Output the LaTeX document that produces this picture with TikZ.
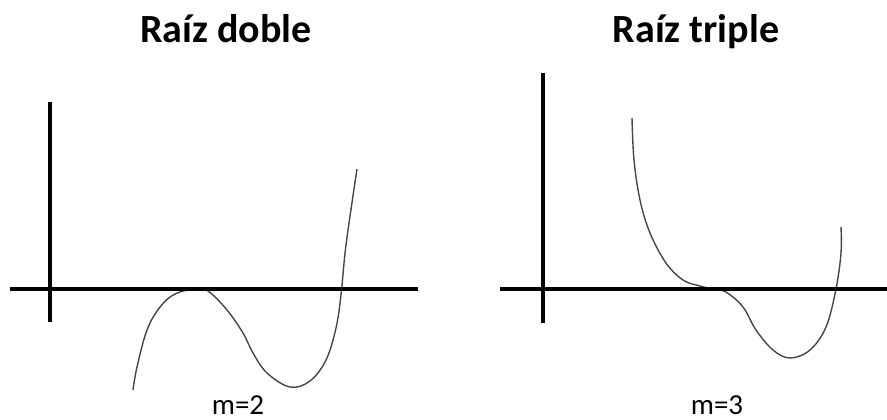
\documentclass[tikz,border=0pt]{standalone}
\usepackage{fontspec}
\setmainfont{Carlito}
\begin{document}
\begin{tikzpicture}[x=1pt,y=-1pt,
  axis/.style={line width=4pt},
  curve/.style={line width=1.4pt,draw={rgb,255:red,70;green,70;blue,70}},
  title/.style={font=\fontsize{40}{44}\selectfont\bfseries,anchor=base},
  mlabel/.style={font=\fontsize{29}{32}\selectfont,anchor=base}]
\useasboundingbox (0,0) rectangle (887,420);
% left panel
\node[title] (t1) at (226,43) {Raíz doble};
\coordinate (ly1) at (50,102); \coordinate (ly2) at (50,322);
\coordinate (lx1) at (10,289); \coordinate (lx2) at (418,289);
\draw[curve] plot[smooth,tension=0.6] coordinates {(133,390) (137,367) (147,330) (160,307) (175,294) (195,289) (208,291) (227,310) (243,333) (253,353) (267,373) (290,387) (310,381) (326,360) (336,328) (341,295) (346,245) (357,169)};
\draw[axis] (ly1) -- (ly2);
\draw[axis] (lx1) -- (lx2);
\node[mlabel] (m1) at (238,414) {m=2};
% right panel
\node[title] (t2) at (696,43) {Raíz triple};
\coordinate (ry1) at (543,73); \coordinate (ry2) at (543,323);
\coordinate (rx1) at (500,289); \coordinate (rx2) at (887,289);
\draw[curve] plot[smooth,tension=0.6] coordinates {(632,118) (634,160) (640,200) (650,233) (666,263) (683,280) (700,286) (713,289) (726,292) (743,307) (756,330) (773,350) (790,358) (810,350) (826,327) (836,289) (841,253) (841,227)};
\draw[axis] (ry1) -- (ry2);
\draw[axis] (rx1) -- (rx2);
\node[mlabel] (m2) at (717,414) {m=3};
\end{tikzpicture}
\end{document}
